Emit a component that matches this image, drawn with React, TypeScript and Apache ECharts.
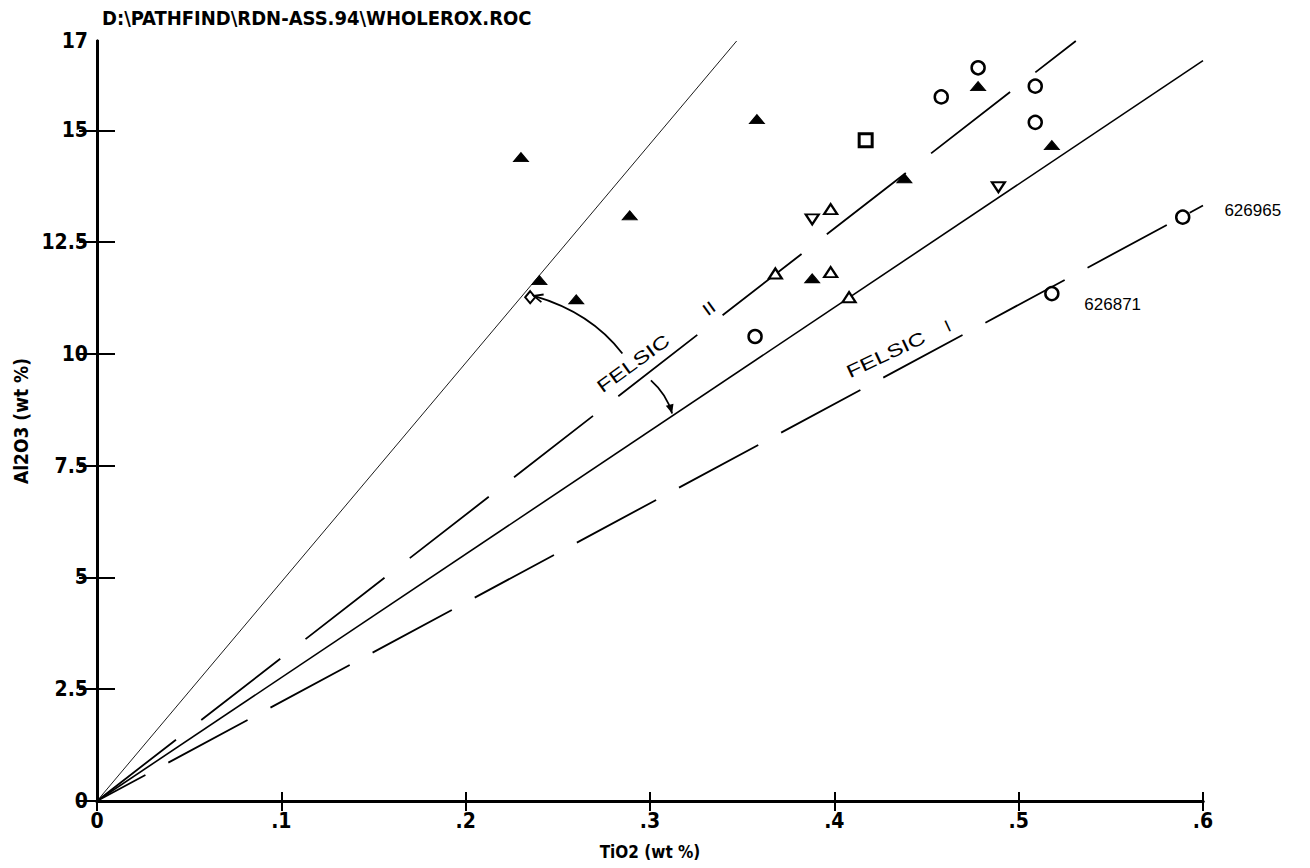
import React, { useEffect, useRef } from "react";
import * as echarts from "echarts";

const TITLE = "D:\\PATHFIND\\RDN-ASS.94\\WHOLEROX.ROC";
const X_NAME = "TiO2 (wt %)";
const Y_NAME = "Al2O3 (wt %)";
const X_TICKS = [0, 0.1, 0.2, 0.3, 0.4, 0.5, 0.6];
const Y_TICKS = [0, 2.5, 5, 7.5, 10, 12.5, 15];
const Y_LABELS = [0, 2.5, 5, 7.5, 10, 12.5, 15, 17];

// [TiO2, Al2O3]
const filledTriangles = [
  [0.23, 14.4], [0.289, 13.1], [0.24, 11.65], [0.26, 11.22], [0.358, 15.25],
  [0.478, 15.99], [0.518, 14.67], [0.438, 13.93], [0.388, 11.69],
];
const hollowTriangles = [[0.398, 13.24], [0.368, 11.8], [0.398, 11.83], [0.408, 11.27]];
const hollowInvTriangles = [[0.388, 13.01], [0.489, 13.73]];
const circles = [
  [0.478, 16.4], [0.458, 15.75], [0.509, 15.99], [0.509, 15.18],
  [0.357, 10.39], [0.589, 13.06], [0.518, 11.35],
];
const squares = [[0.417, 14.78]];
const diamonds = [[0.235, 11.27]];

// reference lines through the origin
const thinLine = [[0, 0], [0.347, 17]];
const felsicIILine = [[0, 0], [0.531, 17]];
const solidLine = [[0, 0], [0.6, 16.56]];
const felsicILine = [[0, 0], [0.6, 13.32]];

// handwritten annotations (data coordinates)
const felsicIIText = { text: "FELSIC", at: [0.291, 9.78], angle: 36 };
const felsicIINum = { text: "II", at: [0.332, 11.02], angle: 36 };
const felsicIText = { text: "FELSIC", at: [0.428, 9.98], angle: 25 };
const felsicINum = { text: "I", at: [0.4616, 10.62], angle: 25 };
const sampleLabels = [
  { text: "626965", at: [0.627, 13.2] },
  { text: "626871", at: [0.551, 11.1] },
];
const arrowUp = { from: [0.285, 10.01], ctrl: [0.268, 10.93], to: [0.237, 11.3] };
const arrowDown = { from: [0.3005, 9.41], ctrl: [0.309, 9.1], to: [0.312, 8.67] };

const AXIS_FONT = "'DejaVu Sans Condensed', 'Liberation Sans Narrow', 'DejaVu Sans', sans-serif";
const HAND_FONT = "'Liberation Sans', 'DejaVu Sans', sans-serif";

const fmtX = (v: number) => (v === 0 ? "0" : v.toFixed(1).replace(/^0/, ""));
const fmtY = (v: number) => String(Math.round(v * 10) / 10);

function lineSeries(data: number[][], width: number, type: any, offset = 0) {
  return {
    type: "line",
    data,
    symbol: "none",
    silent: true,
    z: 1,
    lineStyle: { color: "#000", width, type, dashOffset: offset },
  };
}

function scatter(data: number[][], symbol: string, size: any, filled: boolean, border: number, rotate = 0) {
  return {
    type: "scatter",
    data,
    symbol,
    symbolSize: size,
    symbolRotate: rotate,
    z: 3,
    itemStyle: {
      color: filled ? "#000" : "#fff",
      borderColor: "#000",
      borderWidth: border,
      opacity: 1,
    },
  };
}

export default function App() {
  const ref = useRef<HTMLDivElement>(null);
  useEffect(() => {
    const chart = echarts.init(ref.current!, null, { renderer: "svg" });
    const axisLine = { show: true, lineStyle: { color: "#000", width: 3 } };
    const labelStyle = { color: "#000", fontSize: 21, fontWeight: "bold", fontFamily: AXIS_FONT };
    const option: any = {
      animation: false,
      backgroundColor: "#fff",
      title: {
        text: TITLE,
        left: 97,
        top: 3,
        textStyle: { color: "#000", fontSize: 20, fontWeight: "bold", fontFamily: AXIS_FONT },
      },
      grid: { left: 97, right: 107, top: 41, bottom: 67, containLabel: false },
      xAxis: [
        {
          type: "value", min: 0, max: 0.6, interval: 0.1, position: "bottom",
          axisLine, splitLine: { show: false },
          axisTick: { inside: true, length: 9, lineStyle: { width: 2, color: "#000" }, customValues: X_TICKS },
          axisLabel: { ...labelStyle, margin: 9, formatter: fmtX, customValues: X_TICKS },
          name: X_NAME, nameLocation: "middle", nameGap: 42,
          nameTextStyle: { color: "#000", fontSize: 17, fontWeight: "bold", fontFamily: AXIS_FONT },
        },
        {
          type: "value", min: 0, max: 0.6, interval: 0.1, position: "top",
          axisLine, splitLine: { show: false },
          axisTick: { inside: true, length: 10, lineStyle: { width: 2, color: "#000" } },
          axisLabel: { show: false },
        },
      ],
      yAxis: [
        {
          type: "value", min: 0, max: 17, interval: 2.5, position: "left",
          axisLine, splitLine: { show: false },
          axisTick: { inside: true, length: 18, lineStyle: { width: 2, color: "#000" }, customValues: Y_TICKS },
          axisLabel: { ...labelStyle, margin: 9, formatter: fmtY, customValues: Y_LABELS },
          name: Y_NAME, nameLocation: "middle", nameGap: 64, nameRotate: 90,
          nameTextStyle: { color: "#000", fontSize: 19, fontWeight: "bold", fontFamily: AXIS_FONT },
        },
        {
          type: "value", min: 0, max: 17, interval: 2.5, position: "right",
          axisLine, splitLine: { show: false },
          axisTick: { inside: true, length: 18, lineStyle: { width: 2, color: "#000" }, customValues: Y_TICKS },
          axisLabel: { show: false },
        },
      ],
      series: [
        lineSeries(thinLine, 0.9, "solid"),
        lineSeries(felsicIILine, 1.8, [100, 32], 0),
        lineSeries(solidLine, 1.6, "solid"),
        lineSeries(felsicILine, 1.8, [90, 26], 35),
        scatter(filledTriangles, "triangle", [15, 9], true, 1),
        scatter(hollowTriangles, "triangle", [13, 10], false, 2.2),
        scatter(hollowInvTriangles, "triangle", [13, 10], false, 2.2, 180),
        scatter(circles, "circle", 13, false, 2.5),
        scatter(squares, "rect", 13, false, 3),
        scatter(diamonds, "diamond", [10, 12], false, 2),
      ],
    };
    chart.setOption(option);

    const px = (pt: number[]) => chart.convertToPixel({ seriesIndex: 0 }, pt) as number[];
    const deg = (a: number) => (a * Math.PI) / 180;
    const handText = (t: { text: string; at: number[]; angle?: number }, size: number, stretch = 1) => {
      const p = px(t.at);
      return {
        type: "text", x: p[0], y: p[1], rotation: deg(t.angle || 0), scaleX: stretch, z: 10,
        style: { text: t.text, fill: "#000", fontSize: size, fontFamily: HAND_FONT, align: "center", verticalAlign: "middle" },
      };
    };
    const arrow = (a: { from: number[]; ctrl: number[]; to: number[] }, filledHead: boolean) => {
      const s = px(a.from), c = px(a.ctrl), e = px(a.to);
      let dx = e[0] - c[0], dy = e[1] - c[1];
      const len = Math.hypot(dx, dy) || 1;
      dx /= len; dy /= len;
      const L = 9, W = 4;
      const b = [e[0] - dx * L, e[1] - dy * L];
      const p1 = [b[0] - dy * W, b[1] + dx * W];
      const p2 = [b[0] + dy * W, b[1] - dx * W];
      const items: any[] = [
        {
          type: "bezierCurve", z: 10,
          shape: { x1: s[0], y1: s[1], x2: e[0], y2: e[1], cpx1: c[0], cpy1: c[1] },
          style: { stroke: "#000", lineWidth: 1.8, fill: null },
        },
      ];
      if (filledHead) {
        items.push({ type: "polygon", z: 10, shape: { points: [e, p1, p2] }, style: { fill: "#000" } });
      } else {
        items.push({ type: "polyline", z: 10, shape: { points: [p1, e, p2] }, style: { stroke: "#000", lineWidth: 1.8, fill: null } });
      }
      return items;
    };

    chart.setOption({
      graphic: [
        handText(felsicIIText, 18, 1.35),
        handText(felsicIINum, 17, 1.2),
        handText(felsicIText, 18, 1.35),
        handText(felsicINum, 17),
        ...sampleLabels.map((s) => handText(s, 17)),
        ...arrow(arrowUp, false),
        ...arrow(arrowDown, true),
      ],
    });
    return () => chart.dispose();
  }, []);
  return (
    <div
      ref={ref}
      style={{ position: "fixed", left: 0, top: 0, width: 1310, height: 868, background: "#fff" }}
    />
  );
}
